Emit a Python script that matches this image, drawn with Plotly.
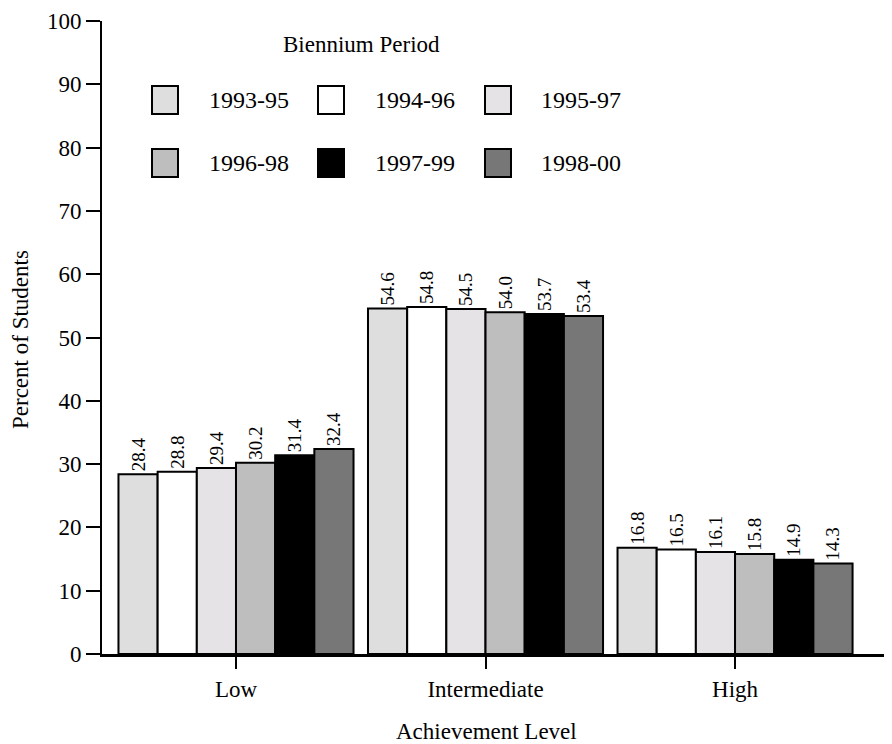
import plotly.graph_objects as go

categories = ["Low", "Intermediate", "High"]
periods = ["1993-95", "1994-96", "1995-97", "1996-98", "1997-99", "1998-00"]
values = {
    "1993-95": [28.4, 54.6, 16.8],
    "1994-96": [28.8, 54.8, 16.5],
    "1995-97": [29.4, 54.5, 16.1],
    "1996-98": [30.2, 54.0, 15.8],
    "1997-99": [31.4, 53.7, 14.9],
    "1998-00": [32.4, 53.4, 14.3],
}
colors = ["#dedede", "#ffffff", "#e5e3e5", "#bebebe", "#000000", "#777777"]
y_ticks = list(range(0, 101, 10))

FONT = "Liberation Serif"
FS = 23
W, H = 892, 744
OFF = 8  # page body margin
# plot area in screen pixels: x 102..888, y 21..654
ML = 102 - OFF
MT = 21 - OFF
MR = W - (888 - OFF)
MB = H - (654 - OFF)
PW, PH = W - ML - MR, H - MT - MB

def px(x):
    return (x - OFF - ML) / PW

def py(y):
    return (H - MB - (y - OFF)) / PH

fig = go.Figure()
for p, c in zip(periods, colors):
    fig.add_trace(go.Bar(
        x=categories, y=values[p], name=p,
        marker=dict(color=c, line=dict(color="black", width=2)),
        text=[f"{v:.1f}" for v in values[p]],
        textposition="outside", textangle=-90,
        textfont=dict(family=FONT, size=19, color="black"),
        cliponaxis=False, showlegend=False,
    ))

# legend drawn as shapes + annotations
cols_x = [152, 318, 485]
text_x = [207, 373, 539]
rows_y = [100, 163]
for i, (p, c) in enumerate(zip(periods, colors)):
    r, k = divmod(i, 3)
    x0 = cols_x[k]
    yc = rows_y[r]
    fig.add_shape(type="rect", xref="paper", yref="paper",
                  x0=px(x0), x1=px(x0 + 26), y0=py(yc - 14), y1=py(yc + 14),
                  fillcolor=c, line=dict(color="black", width=2))
    fig.add_annotation(xref="paper", yref="paper", x=px(text_x[k]), y=py(yc),
                       text=p, showarrow=False, xanchor="left", yanchor="middle",
                       font=dict(family=FONT, size=FS + 1, color="black"))
fig.add_annotation(xref="paper", yref="paper", x=px(361), y=py(44),
                   text="Biennium Period", showarrow=False, xanchor="center", yanchor="middle",
                   font=dict(family=FONT, size=FS, color="black"))

# axis titles
fig.add_annotation(xref="paper", yref="paper", x=px(486), y=py(731),
                   text="Achievement Level", showarrow=False, xanchor="center", yanchor="middle",
                   font=dict(family=FONT, size=FS, color="black"))
fig.add_annotation(xref="paper", yref="paper", x=px(20), y=py(340),
                   text="Percent of Students", showarrow=False, xanchor="center", yanchor="middle",
                   textangle=-90, font=dict(family=FONT, size=FS, color="black"))

fig.update_layout(
    width=W, height=H,
    margin=dict(l=ML, r=MR, t=MT, b=MB, autoexpand=False),
    paper_bgcolor="white", plot_bgcolor="white",
    barmode="group", bargap=0.058, bargroupgap=0,
    font=dict(family=FONT, size=FS, color="black"),
    xaxis=dict(
        range=[-0.537, 2.613], showgrid=False, automargin=False,
        showline=True, linecolor="black", linewidth=3,
        ticks="outside", ticklen=12, tickwidth=2, tickcolor="black",
        tickfont=dict(family=FONT, size=FS),
    ),
    yaxis=dict(
        range=[0, 100], tickvals=y_ticks, showgrid=False, zeroline=False, automargin=False,
        showline=True, linecolor="black", linewidth=2,
        ticks="outside", ticklen=14, tickwidth=2, tickcolor="black",
        tickfont=dict(family=FONT, size=FS),
    ),
)

fig.write_html("out.html")
